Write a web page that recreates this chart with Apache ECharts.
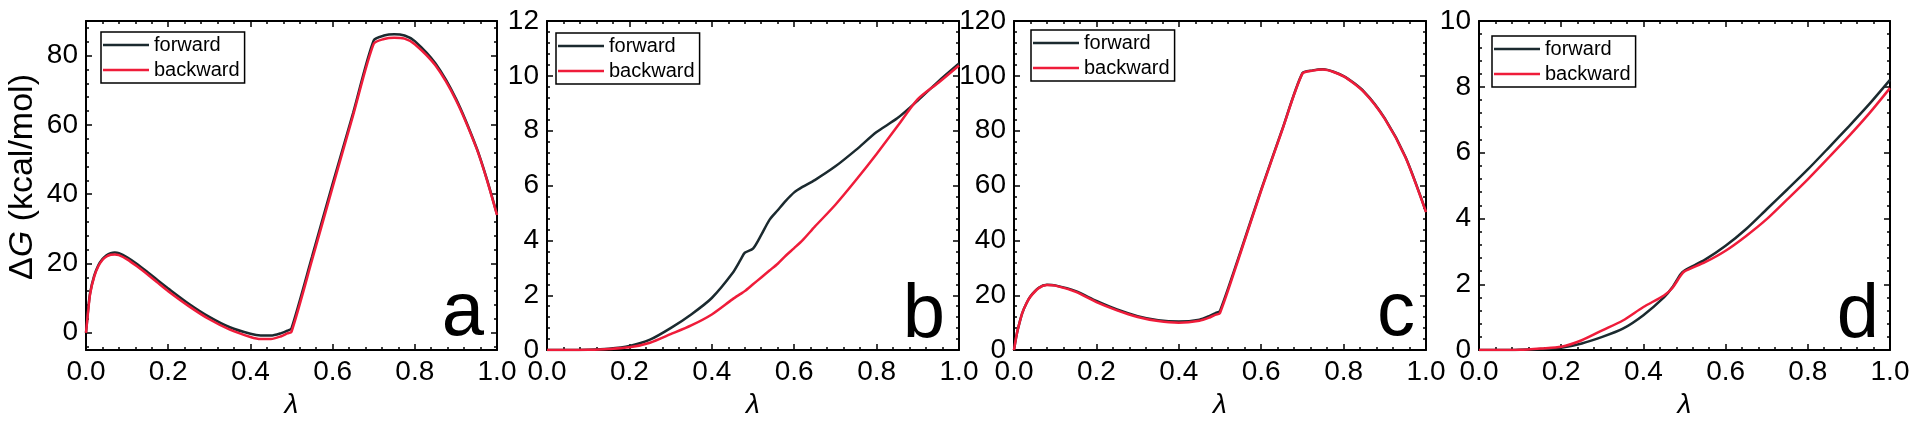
<!DOCTYPE html>
<html>
<head>
<meta charset="utf-8">
<script src="https://cdn.jsdelivr.net/npm/echarts@6/dist/echarts.min.js"></script>
<style>
html,body{margin:0;padding:0;background:#fff;}
#chart{width:1920px;height:424px;}
</style>
</head>
<body>
<div id="chart"></div>
<script>
// ---------- data ----------
const lambdaA = [0, 0.005, 0.01, 0.02, 0.03, 0.04, 0.05, 0.06, 0.07, 0.08, 0.1, 0.125, 0.15, 0.175, 0.2, 0.25, 0.3, 0.35, 0.4, 0.425, 0.45, 0.475, 0.49, 0.5, 0.55, 0.6, 0.65, 0.7, 0.725, 0.75, 0.775, 0.8, 0.85, 0.9, 0.95, 0.975, 1.0];
const forwardA = [0, 6.5, 11.5, 16.5, 19.5, 21.3, 22.4, 23.0, 23.2, 23.0, 21.8, 19.8, 17.5, 15.1, 12.8, 8.4, 4.6, 1.6, -0.3, -0.8, -0.8, -0.1, 0.6, 1.3, 22, 43, 63.5, 84.4, 85.8, 86.2, 85.8, 84.2, 77.8, 67.6, 53.5, 44.5, 34.2];
const backwardA = [0, 6, 11.2, 16.2, 19.2, 21.0, 22.0, 22.5, 22.6, 22.4, 21.2, 19.1, 16.8, 14.4, 12.0, 7.7, 3.9, 0.9, -1.2, -1.8, -1.8, -1.0, -0.2, 0.3, 21, 42, 62.8, 83.4, 84.8, 85.2, 84.9, 83.3, 77.2, 67.2, 53.3, 44.3, 34.0];

const lambdaB = [0, 0.05, 0.1, 0.15, 0.2, 0.25, 0.3, 0.35, 0.4, 0.45, 0.47, 0.48, 0.5, 0.52, 0.54, 0.56, 0.58, 0.6, 0.62, 0.65, 0.7, 0.75, 0.8, 0.85, 0.9, 0.95, 1.0];
const forwardB = [0, 0, 0.01, 0.05, 0.15, 0.38, 0.8, 1.3, 1.9, 2.8, 3.3, 3.55, 3.7, 4.2, 4.75, 5.1, 5.45, 5.75, 5.95, 6.2, 6.7, 7.3, 7.95, 8.45, 9.1, 9.8, 10.45];
const backwardB = [0, 0, 0.01, 0.04, 0.1, 0.27, 0.58, 0.9, 1.3, 1.85, 2.05, 2.15, 2.4, 2.65, 2.9, 3.15, 3.45, 3.72, 4.0, 4.5, 5.3, 6.2, 7.15, 8.15, 9.15, 9.75, 10.38];

const lambdaC = [0, 0.005, 0.01, 0.02, 0.03, 0.04, 0.06, 0.08, 0.1, 0.15, 0.2, 0.25, 0.3, 0.35, 0.4, 0.45, 0.475, 0.49, 0.5, 0.55, 0.6, 0.65, 0.7, 0.725, 0.75, 0.8, 0.85, 0.9, 0.95, 1.0];
const forwardC = [0, 4.5, 8, 13.5, 17, 19.6, 22.7, 23.8, 23.6, 21.5, 17.9, 14.8, 12.4, 10.9, 10.4, 11.1, 12.5, 13.6, 14.3, 36, 58.5, 80, 101, 102, 102.4, 99.9, 94.2, 84.5, 70.5, 50.5];
const backwardC = [0, 4.5, 8, 13.5, 17, 19.5, 22.6, 23.7, 23.5, 21.2, 17.5, 14.5, 12.1, 10.6, 10.0, 10.7, 11.9, 12.9, 13.5, 35.5, 58.2, 79.8, 100.8, 101.9, 102.3, 99.8, 94.0, 84.3, 70.3, 50.3];

const lambdaD = [0, 0.05, 0.1, 0.15, 0.2, 0.25, 0.3, 0.35, 0.4, 0.45, 0.47, 0.49, 0.5, 0.55, 0.6, 0.65, 0.7, 0.75, 0.8, 0.85, 0.9, 0.95, 1.0];
const forwardD = [0, 0, 0.01, 0.03, 0.07, 0.2, 0.4, 0.65, 1.06, 1.6, 1.9, 2.3, 2.42, 2.75, 3.17, 3.68, 4.28, 4.88, 5.49, 6.14, 6.8, 7.48, 8.21];
const backwardD = [0, 0, 0.01, 0.05, 0.1, 0.3, 0.6, 0.9, 1.31, 1.66, 1.88, 2.25, 2.39, 2.67, 3.02, 3.47, 3.98, 4.58, 5.19, 5.84, 6.5, 7.2, 7.96];

const yTicksA = [0, 20, 40, 60, 80];
const yMinorA = [-4, 4, 8, 12, 16, 24, 28, 32, 36, 44, 48, 52, 56, 64, 68, 72, 76, 84, 88];
const seriesNames = ['forward', 'backward'];
const panelLetters = ['a', 'b', 'c', 'd'];
const xTitle = 'λ';

// ---------- layout/style ----------
const FONT = 'Liberation Sans, Arial, Helvetica, sans-serif';
const COL_F = '#1b2a2f';
const COL_B = '#ef1c3a';
const panels = [
  {grid: {left: 86, top: 21, width: 411, height: 331}, x: lambdaA, f: forwardA, b: backwardA, ymin: -5, ymax: 90, custom: true,
   legend: {left: 101, top: 32}, letter: {x: 484, y: 340}},
  {grid: {left: 547, top: 21, width: 412, height: 330}, x: lambdaB, f: forwardB, b: backwardB, ymin: 0, ymax: 12, interval: 2,
   legend: {left: 556, top: 33}, letter: {x: 945, y: 342}},
  {grid: {left: 1014, top: 21, width: 412, height: 330}, x: lambdaC, f: forwardC, b: backwardC, ymin: 0, ymax: 120, interval: 20,
   legend: {left: 1031, top: 30}, letter: {x: 1415, y: 340}},
  {grid: {left: 1479, top: 21, width: 411, height: 331}, x: lambdaD, f: forwardD, b: backwardD, ymin: 0, ymax: 10, interval: 2,
   legend: {left: 1492, top: 36}, letter: {x: 1879, y: 342}}
];

const lineAxis = {show: true, onZero: false, lineStyle: {color: '#000', width: 2}};
const grid = [], xAxis = [], yAxis = [], series = [], legend = [], graphic = [];

panels.forEach((p, i) => {
  grid.push(Object.assign({containLabel: false}, p.grid));
  const xBase = xAxis.length;
  const xCommon = {
    type: 'value', gridIndex: i, min: 0, max: 1, interval: 0.2,
    axisLine: lineAxis, splitLine: {show: false},
    axisTick: {show: true, inside: true, length: 6, lineStyle: {color: '#000', width: 1.5}},
    minorTick: {show: true, splitNumber: 5, length: 3, lineStyle: {color: '#000', width: 1.5}}
  };
  xAxis.push(Object.assign({}, xCommon, {
    position: 'bottom',
    name: xTitle, nameLocation: 'middle', nameGap: 36,
    nameTextStyle: {fontFamily: FONT, fontSize: 28, fontStyle: 'italic', color: '#000'},
    axisLabel: {show: true, margin: 8, fontFamily: FONT, fontSize: 28, color: '#000',
      showMinLabel: true, showMaxLabel: true, formatter: v => v.toFixed(1)}
  }));
  xAxis.push(Object.assign({}, xCommon, {position: 'top', axisLabel: {show: false}}));

  const yBase = yAxis.length;
  const yLabel = {show: true, margin: 8, fontFamily: FONT, fontSize: 28, color: '#000',
    showMinLabel: true, showMaxLabel: true};
  if (p.custom) {
    const major = {
      type: 'value', gridIndex: i, min: p.ymin, max: p.ymax,
      axisLine: lineAxis, splitLine: {show: false},
      axisTick: {show: true, inside: true, length: 6, customValues: yTicksA, lineStyle: {color: '#000', width: 1.5}},
      minorTick: {show: false}
    };
    const minor = {
      type: 'value', gridIndex: i, min: p.ymin, max: p.ymax,
      axisLine: {show: false, onZero: false}, splitLine: {show: false}, axisLabel: {show: false},
      axisTick: {show: true, inside: true, length: 3, customValues: yMinorA, lineStyle: {color: '#000', width: 1.5}},
      minorTick: {show: false}
    };
    yAxis.push(Object.assign({}, major, {position: 'left',
      axisLabel: Object.assign({}, yLabel, {customValues: yTicksA})}));
    yAxis.push(Object.assign({}, major, {position: 'right', axisLabel: {show: false}}));
    yAxis.push(Object.assign({}, minor, {position: 'left'}));
    yAxis.push(Object.assign({}, minor, {position: 'right'}));
  } else {
    const yCommon = {
      type: 'value', gridIndex: i, min: p.ymin, max: p.ymax, interval: p.interval,
      axisLine: lineAxis, splitLine: {show: false},
      axisTick: {show: true, inside: true, length: 6, lineStyle: {color: '#000', width: 1.5}},
      minorTick: {show: true, splitNumber: 5, length: 3, lineStyle: {color: '#000', width: 1.5}}
    };
    yAxis.push(Object.assign({}, yCommon, {position: 'left', axisLabel: yLabel}));
    yAxis.push(Object.assign({}, yCommon, {position: 'right', axisLabel: {show: false}}));
  }

  const mk = (arr) => p.x.map((lx, k) => [lx, arr[k]]);
  [[seriesNames[0], p.f, COL_F], [seriesNames[1], p.b, COL_B]].forEach(([nm, arr, col]) => {
    series.push({
      name: nm, type: 'line', xAxisIndex: xBase, yAxisIndex: yBase,
      data: mk(arr), showSymbol: false, symbol: 'none', smooth: 0.25,
      lineStyle: {color: col, width: 2.5}, itemStyle: {color: col},
      clip: true, animation: false, z: 3
    });
  });

  legend.push({
    data: seriesNames, left: p.legend.left, top: p.legend.top, orient: 'vertical',
    padding: [3, 5, 3, 2], itemGap: 5, itemWidth: 46, itemHeight: 2.5, itemTextGap: 6,
    icon: 'rect', borderColor: '#000', borderWidth: 1.5, backgroundColor: '#fff',
    textStyle: {fontFamily: FONT, fontSize: 20, color: '#000'},
    selectedMode: false
  });

  graphic.push({
    type: 'text', x: p.letter.x, y: p.letter.y - 26, z: 10,
    style: {text: panelLetters[i], fontFamily: FONT, fontSize: 76, fill: '#000',
      align: 'right', verticalAlign: 'middle'}
  });
});

graphic.push({
  type: 'text', x: 23, y: 177, rotation: Math.PI / 2, z: 10,
  style: {
    text: '{n|Δ}{i|G}{n| (kcal/mol)}', align: 'center', verticalAlign: 'middle',
    rich: {
      n: {fontFamily: FONT, fontSize: 34, fill: '#000', color: '#000'},
      i: {fontFamily: FONT, fontSize: 34, fontStyle: 'italic', fill: '#000', color: '#000'}
    }
  }
});

const chart = echarts.init(document.getElementById('chart'), null, {renderer: 'canvas'});
chart.setOption({
  animation: false,
  backgroundColor: '#fff',
  grid, xAxis, yAxis, series, legend, graphic
});
</script>
</body>
</html>
